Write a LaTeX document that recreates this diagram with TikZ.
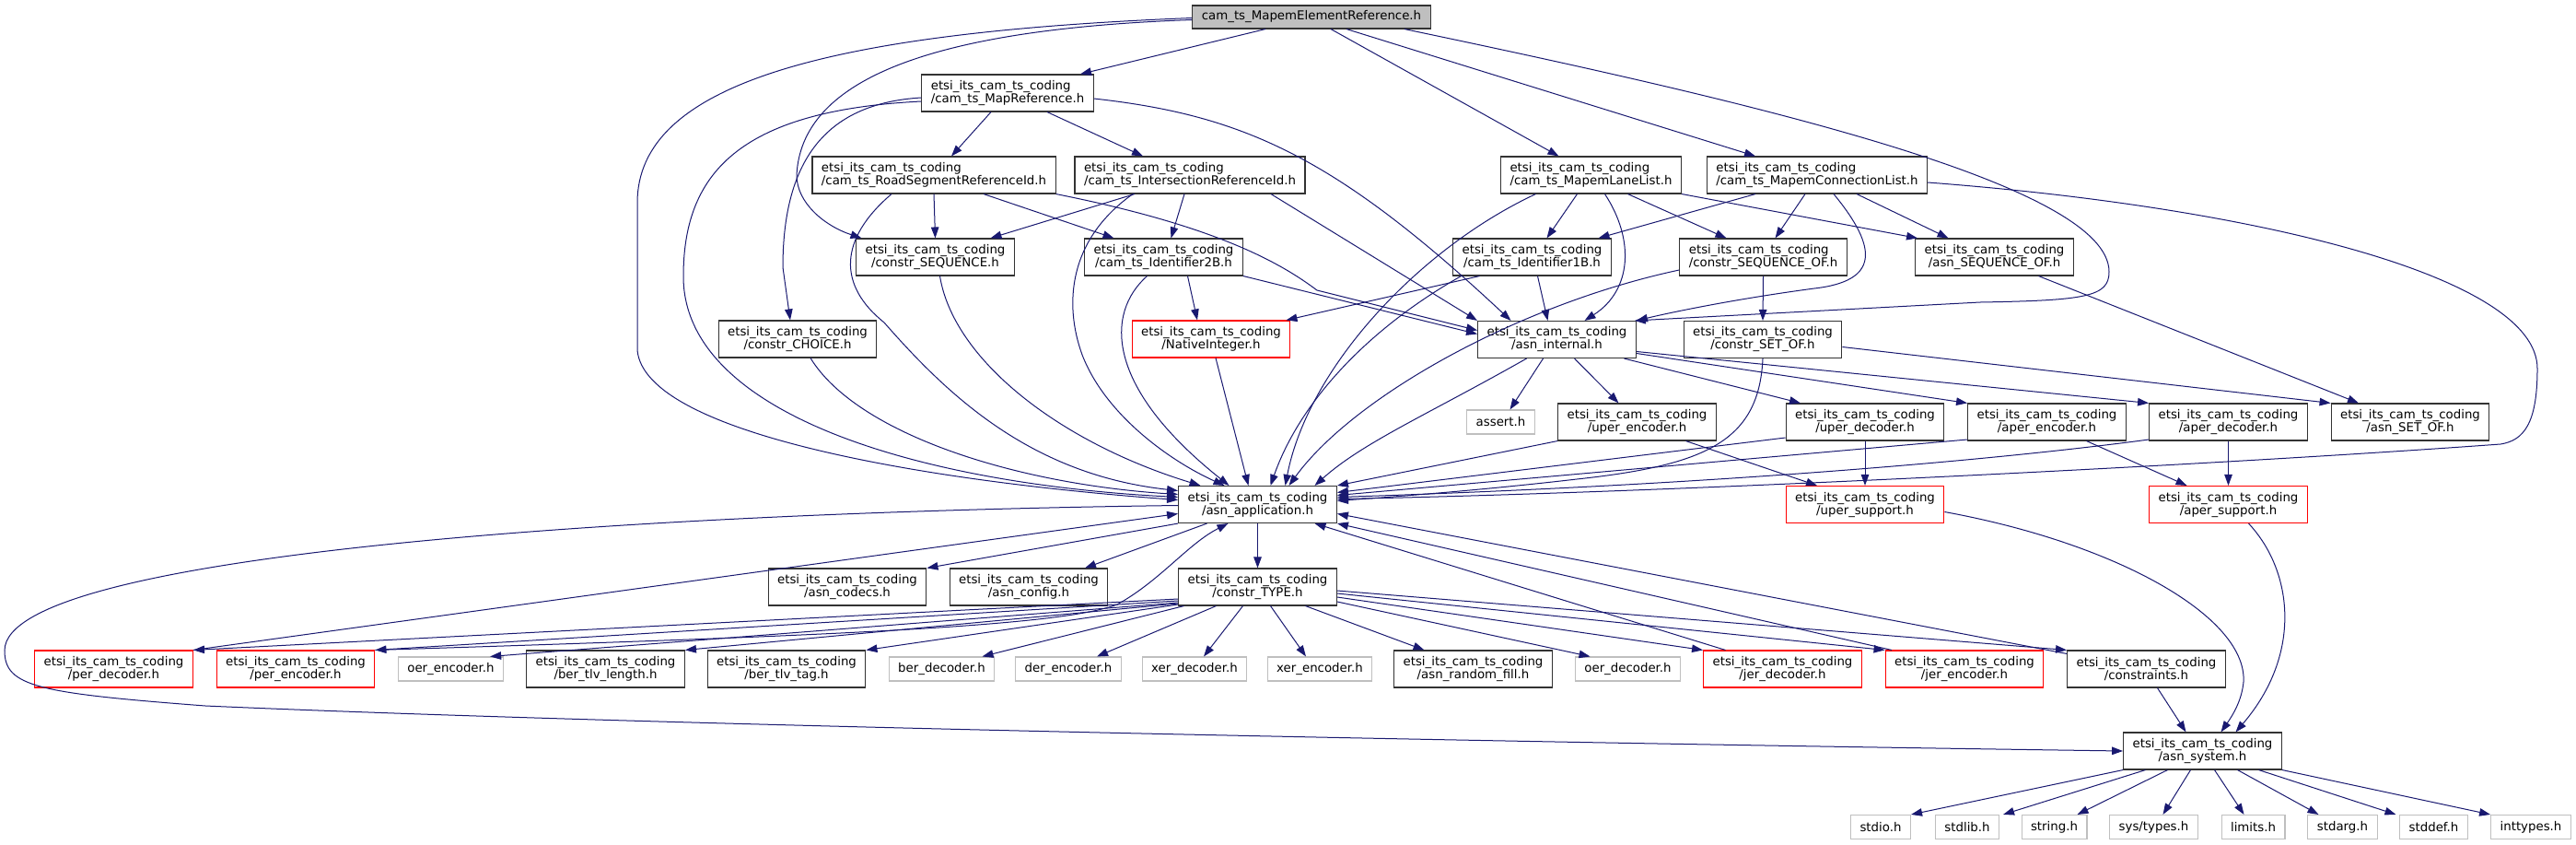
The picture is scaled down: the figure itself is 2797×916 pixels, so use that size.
\documentclass[tikz,border=0pt]{standalone}
\usepackage{fontspec}
\setmainfont{DejaVu Sans}
\usetikzlibrary{arrows.meta}
\definecolor{edgeblue}{HTML}{191970}
\definecolor{boxdark}{HTML}{333333}
\definecolor{boxlight}{HTML}{BFBFBF}
\definecolor{rootfill}{HTML}{BFBFBF}
\definecolor{boxred}{HTML}{FF0000}

\begin{document}
\begin{tikzpicture}[x=1pt,y=-1pt,
    hdr/.style={draw=boxdark, fill=white, line width=1.1pt, inner xsep=10pt, inner ysep=0pt,
      minimum height=40pt, align=center, font=\fontsize{13.33}{14}\selectfont},
    widehdr/.style={hdr, align=left},
    redhdr/.style={hdr, draw=boxred},
    syshdr/.style={hdr, draw=boxlight, minimum height=26pt},
    roothdr/.style={hdr, fill=rootfill, minimum height=25pt},
    dep/.style={draw=edgeblue, line width=1pt, -{Triangle[length=12pt,width=8.5pt]}}]
    \useasboundingbox (0,0) rectangle (2797,916);

    % the file itself
    \node[roothdr] (root) at (1424,18.5) {cam\_ts\_MapemElementReference.h};

    % cam_ts headers
    \node[widehdr] (mapref) at (1094,101) {etsi\_its\_cam\_ts\_coding\\/cam\_ts\_MapReference.h};
    \node[widehdr] (roadseg) at (1014,190) {etsi\_its\_cam\_ts\_coding\\/cam\_ts\_RoadSegmentReferenceId.h};
    \node[widehdr] (interref) at (1292,190) {etsi\_its\_cam\_ts\_coding\\/cam\_ts\_IntersectionReferenceId.h};
    \node[widehdr] (lanelist) at (1727.5,190) {etsi\_its\_cam\_ts\_coding\\/cam\_ts\_MapemLaneList.h};
    \node[widehdr] (connlist) at (1973,190) {etsi\_its\_cam\_ts\_coding\\/cam\_ts\_MapemConnectionList.h};
    \node[hdr] (constrseq) at (1015.5,279) {etsi\_its\_cam\_ts\_coding\\/constr\_SEQUENCE.h};
    \node[hdr] (id2b) at (1263.5,279) {etsi\_its\_cam\_ts\_coding\\/cam\_ts\_Identifier2B.h};
    \node[hdr] (id1b) at (1663.5,279) {etsi\_its\_cam\_ts\_coding\\/cam\_ts\_Identifier1B.h};
    \node[widehdr] (seqof) at (1914.5,279) {etsi\_its\_cam\_ts\_coding\\/constr\_SEQUENCE\_OF.h};
    \node[hdr] (asnseqof) at (2165.5,279) {etsi\_its\_cam\_ts\_coding\\/asn\_SEQUENCE\_OF.h};
    \node[hdr] (choice) at (866,368) {etsi\_its\_cam\_ts\_coding\\/constr\_CHOICE.h};
    \node[redhdr] (nativeint) at (1315,368) {etsi\_its\_cam\_ts\_coding\\/NativeInteger.h};
    \node[hdr] (internal) at (1690.5,368.5) {etsi\_its\_cam\_ts\_coding\\/asn\_internal.h};
    \node[hdr] (setof) at (1914,368.5) {etsi\_its\_cam\_ts\_coding\\/constr\_SET\_OF.h};

    % encoders and decoders
    \node[syshdr] (assert) at (1629.5,458) {assert.h};
    \node[hdr] (uperenc) at (1777.5,458) {etsi\_its\_cam\_ts\_coding\\/uper\_encoder.h};
    \node[hdr] (uperdec) at (2025,458) {etsi\_its\_cam\_ts\_coding\\/uper\_decoder.h};
    \node[hdr] (aperenc) at (2222.5,458) {etsi\_its\_cam\_ts\_coding\\/aper\_encoder.h};
    \node[hdr] (aperdec) at (2419.5,458) {etsi\_its\_cam\_ts\_coding\\/aper\_decoder.h};
    \node[hdr] (asnsetof) at (2617,458) {etsi\_its\_cam\_ts\_coding\\/asn\_SET\_OF.h};
    \node[hdr] (application) at (1365.5,547.5) {etsi\_its\_cam\_ts\_coding\\/asn\_application.h};
    \node[redhdr] (upersup) at (2025,547.5) {etsi\_its\_cam\_ts\_coding\\/uper\_support.h};
    \node[redhdr] (apersup) at (2419.5,547.5) {etsi\_its\_cam\_ts\_coding\\/aper\_support.h};
    \node[hdr] (codecs) at (920,637) {etsi\_its\_cam\_ts\_coding\\/asn\_codecs.h};
    \node[hdr] (config) at (1117,637) {etsi\_its\_cam\_ts\_coding\\/asn\_config.h};
    \node[hdr] (constrtype) at (1365.5,637) {etsi\_its\_cam\_ts\_coding\\/constr\_TYPE.h};

    % row under constr_TYPE.h
    \node[redhdr] (perdec) at (123.5,726) {etsi\_its\_cam\_ts\_coding\\/per\_decoder.h};
    \node[redhdr] (perenc) at (321,726) {etsi\_its\_cam\_ts\_coding\\/per\_encoder.h};
    \node[syshdr] (oerenc) at (489.5,726) {oer\_encoder.h};
    \node[hdr] (bertlvlen) at (657.5,726) {etsi\_its\_cam\_ts\_coding\\/ber\_tlv\_length.h};
    \node[hdr] (bertlvtag) at (854,726) {etsi\_its\_cam\_ts\_coding\\/ber\_tlv\_tag.h};
    \node[syshdr] (berdec) at (1022.5,726) {ber\_decoder.h};
    \node[syshdr] (derenc) at (1160,726) {der\_encoder.h};
    \node[syshdr] (xerdec) at (1297,726) {xer\_decoder.h};
    \node[syshdr] (xerenc) at (1433,726) {xer\_encoder.h};
    \node[hdr] (randfill) at (1599.5,726) {etsi\_its\_cam\_ts\_coding\\/asn\_random\_fill.h};
    \node[syshdr] (oerdec) at (1767.5,726) {oer\_decoder.h};
    \node[redhdr] (jerdec) at (1935.5,726) {etsi\_its\_cam\_ts\_coding\\/jer\_decoder.h};
    \node[redhdr] (jerenc) at (2133,726) {etsi\_its\_cam\_ts\_coding\\/jer\_encoder.h};
    \node[hdr] (constraints) at (2330.5,726) {etsi\_its\_cam\_ts\_coding\\/constraints.h};
    \node[hdr] (system) at (2391.5,815) {etsi\_its\_cam\_ts\_coding\\/asn\_system.h};

    % system headers
    \node[syshdr] (stdio) at (2042,897.5) {stdio.h};
    \node[syshdr] (stdlib) at (2136,897.5) {stdlib.h};
    \node[syshdr] (string) at (2230.5,897.5) {string.h};
    \node[syshdr] (systypes) at (2338.5,897.5) {sys/types.h};
    \node[syshdr] (limits) at (2446.5,897.5) {limits.h};
    \node[syshdr] (stdarg) at (2543.5,897.5) {stdarg.h};
    \node[syshdr] (stddef) at (2642.5,897.5) {stddef.h};
    \node[syshdr] (inttypes) at (2748,897.5) {inttypes.h};

    % from the file itself
    \draw[dep] ([yshift=-1]root.west) .. controls (900,35) and (692,90) .. (692,220) -- (692,380)
      .. controls (700,470) and (1000,522) .. ([yshift=5]application.west);
    \draw[dep] ([xshift=-50]root.south) -- ([xshift=79]mapref.north);
    \draw[dep] ([yshift=-3]root.west) .. controls (1000,32) and (870,90) .. (865,190)
      .. controls (865,220) and (895,245) .. ([xshift=-80]constrseq.north);
    \draw[dep] ([xshift=21]root.south) -- ([xshift=-35]lanelist.north);
    \draw[dep] ([xshift=38]root.south) -- ([xshift=-67]connlist.north);
    \draw[dep] ([xshift=101]root.south) .. controls (1900,110) and (2290,200) .. (2290,295)
      .. controls (2290,322) and (2265,326) .. (2150,328) -- ([xshift=-2]internal.north east);

    % cam_ts_MapReference.h
    \draw[dep] ([xshift=-18]mapref.south) -- ([xshift=19]roadseg.north);
    \draw[dep] ([xshift=43]mapref.south) -- ([xshift=-51]interref.north);
    \draw[dep] ([yshift=-5]mapref.west) .. controls (900,112) and (850,170) .. (850,290) -- ([xshift=-8]choice.north);
    \draw[dep] ([yshift=-9]mapref.west) .. controls (800,120) and (742,190) .. (742,300)
      .. controls (742,450) and (1000,525) .. ([yshift=8]application.west);
    \draw[dep] ([yshift=-6]mapref.east) .. controls (1350,125) and (1450,170) .. ([xshift=-50]internal.north);

    % cam_ts_RoadSegmentReferenceId.h
    \draw[dep] (roadseg.south) -- (constrseq.north);
    \draw[dep] ([xshift=54]roadseg.south) -- ([xshift=-54]id2b.north);
    \draw[dep] ([xshift=-46]roadseg.south) .. controls (910,260) and (910,310) .. (960,350)
      .. controls (1030,430) and (1120,515) .. ([yshift=15]application.west);
    \draw[dep] (roadseg.south east) .. controls (1320,245) and (1390,285) .. (1430,315) -- ([yshift=10]internal.west);

    % cam_ts_IntersectionReferenceId.h
    \draw[dep] ([xshift=-60]interref.south) -- ([xshift=60]constrseq.north);
    \draw[dep] ([xshift=-6]interref.south) -- ([xshift=8]id2b.north);
    \draw[dep] ([xshift=-62]interref.south) .. controls (1160,260) and (1155,330) .. (1175,385)
      .. controls (1200,450) and (1270,500) .. ([xshift=-36]application.north);
    \draw[dep] ([xshift=88]interref.south) -- (internal.north west);

    % identifiers
    \draw[dep] ([xshift=26]id2b.south) -- ([xshift=-15]nativeint.north);
    \draw[dep] ([xshift=-18]id2b.south) .. controls (1200,340) and (1200,420) .. ([xshift=-31]application.north);
    \draw[dep] (id2b.south east) -- ([yshift=6]internal.west);
    \draw[dep] ([xshift=-57]id1b.south) -- ([xshift=-5]nativeint.north east);
    \draw[dep] ([xshift=-77]id1b.south) .. controls (1480,360) and (1410,440) .. ([xshift=14]application.north);
    \draw[dep] ([xshift=6]id1b.south) -- ([xshift=-10]internal.north);

    % cam_ts_MapemLaneList.h
    \draw[dep] ([xshift=-15]lanelist.south) -- ([xshift=16]id1b.north);
    \draw[dep] ([xshift=-60]lanelist.south) .. controls (1540,270) and (1420,400) .. ([xshift=30]application.north);
    \draw[dep] ([xshift=15]lanelist.south) .. controls (1775,260) and (1772,315) .. ([xshift=30]internal.north);
    \draw[dep] ([xshift=40]lanelist.south) -- ([xshift=-40]seqof.north);
    \draw[dep] (lanelist.south east) -- ([xshift=3]asnseqof.north west);

    % cam_ts_MapemConnectionList.h
    \draw[dep] ([xshift=-67]connlist.south) -- ([xshift=72]id1b.north);
    \draw[dep] ([xshift=-13]connlist.south) -- ([xshift=13]seqof.north);
    \draw[dep] ([xshift=18]connlist.south) .. controls (2040,270) and (2040,305) .. (1970,313)
      .. controls (1880,325) and (1810,340) .. (internal.north east);
    \draw[dep] ([xshift=43]connlist.south) -- ([xshift=-50]asnseqof.north);
    \draw[dep] ([yshift=-8]connlist.east) .. controls (2450,225) and (2755,300) .. (2755,400)
      .. controls (2755,460) and (2740,478) .. (2715,482)
      .. controls (2400,505) and (1800,535) .. ([yshift=6]application.east);

    % constr_* headers
    \draw[dep] ([xshift=5]constrseq.south) .. controls (1035,390) and (1150,480) .. ([xshift=-62]application.north);
    \draw[dep] ([xshift=14]choice.south) .. controls (930,470) and (1100,525) .. ([yshift=11]application.west);
    \draw[dep] ([xshift=5]nativeint.south) -- ([xshift=-10]application.north);
    \draw[dep] (seqof.south) -- (setof.north);
    \draw[dep] ([yshift=-14]seqof.west) .. controls (1650,330) and (1470,430) .. ([xshift=34]application.north);
    \draw[dep] ([yshift=-8]setof.east) -- (asnsetof.north west);
    \draw[dep] (setof.south) .. controls (1910,480) and (1850,505) .. (1712,520)
      .. controls (1600,533) and (1500,540) .. ([yshift=4]application.east);
    \draw[dep] ([xshift=48]asnseqof.south) -- ([xshift=-56]asnsetof.north);

    % asn_internal.h
    \draw[dep] ([xshift=-33]internal.south) .. controls (1550,450) and (1480,480) .. ([xshift=62]application.north);
    \draw[dep] ([xshift=-15]internal.south) -- ([xshift=10]assert.north);
    \draw[dep] ([xshift=19]internal.south) -- ([xshift=-20]uperenc.north);
    \draw[dep] ([xshift=73]internal.south) -- ([xshift=-70]uperdec.north);
    \draw[dep] ([yshift=-15]internal.east) -- (aperenc.north west);
    \draw[dep] ([yshift=-13]internal.east) -- (aperdec.north west);

    % per encoders/decoders
    \draw[dep] (uperenc.south west) -- (application.north east);
    \draw[dep] ([xshift=53]uperenc.south) -- ([xshift=-52]upersup.north);
    \draw[dep] ([yshift=-17]uperdec.west) -- ([yshift=13]application.east);
    \draw[dep] (uperdec.south) -- (upersup.north);
    \draw[dep] ([yshift=-19]aperenc.west) -- ([yshift=10]application.east);
    \draw[dep] ([xshift=43]aperenc.south) -- ([xshift=-45]apersup.north);
    \draw[dep] ([yshift=-19]aperdec.west) .. controls (2200,495) and (1900,525) .. ([yshift=8]application.east);
    \draw[dep] (aperdec.south) -- (apersup.north);
    \draw[dep] ([yshift=-8]upersup.east) .. controls (2300,590) and (2440,670) .. (2436,740)
      .. controls (2434,760) and (2425,775) .. ([xshift=20]system.north);
    \draw[dep] ([xshift=22]apersup.south) .. controls (2490,620) and (2500,710) .. ([xshift=36]system.north);

    % asn_application.h
    \draw[dep] ([yshift=-1]application.west) .. controls (700,556) and (5,600) .. (5,706)
      .. controls (5,745) and (40,752) .. (223,766) .. controls (700,787) and (1600,805) .. (system.west);
    \draw[dep] (application.south west) -- (codecs.north east);
    \draw[dep] ([xshift=-55]application.south) -- ([xshift=61]config.north);
    \draw[dep] (application.south) -- (constrtype.north);

    % constr_TYPE.h
    \draw[dep] ([yshift=-13]constrtype.west) -- (perdec.north east);
    \draw[dep] ([yshift=-15]constrtype.west) -- (perenc.north east);
    \draw[dep] ([yshift=-17]constrtype.west) -- ([xshift=-15]oerenc.north east);
    \draw[dep] ([yshift=-18]constrtype.west) -- (bertlvlen.north east);
    \draw[dep] ([yshift=-19]constrtype.west) -- (bertlvtag.north east);
    \draw[dep] ([xshift=-80]constrtype.south) -- ([xshift=44]berdec.north);
    \draw[dep] ([xshift=-45]constrtype.south) -- ([xshift=31]derenc.north);
    \draw[dep] ([xshift=-16]constrtype.south) -- ([xshift=10]xerdec.north);
    \draw[dep] ([xshift=14]constrtype.south) -- ([xshift=-15]xerenc.north);
    \draw[dep] ([xshift=52]constrtype.south) -- ([xshift=-53]randfill.north);
    \draw[dep] ([yshift=-16]constrtype.east) -- ([xshift=-41]oerdec.north);
    \draw[dep] ([yshift=-11]constrtype.east) -- (jerdec.north west);
    \draw[dep] ([yshift=-7]constrtype.east) -- (jerenc.north west);
    \draw[dep] ([yshift=-4]constrtype.east) -- (constraints.north west);

    % back up to asn_application.h
    \draw[dep] (perdec.north east) -- ([yshift=-10]application.west);
    \draw[dep] (perenc.north east) .. controls (900,690) and (1150,680) .. (1213,656)
      .. controls (1260,630) and (1290,590) .. ([xshift=-32]application.south);
    \draw[dep] ([xshift=-62]jerdec.north) -- ([xshift=62]application.south);
    \draw[dep] ([xshift=-79]jerenc.north) -- (application.south east);
    \draw[dep] ([yshift=-4]constraints.north west) -- ([yshift=-10]application.east);
    \draw[dep] ([xshift=12]constraints.south) -- ([xshift=-18]system.north);

    % asn_system.h
    \draw[dep] (system.south west) -- (stdio.north east);
    \draw[dep] ([xshift=-62]system.south) -- ([xshift=39]stdlib.north);
    \draw[dep] ([xshift=-38]system.south) -- ([xshift=25]string.north);
    \draw[dep] ([xshift=-13]system.south) -- ([xshift=10]systypes.north);
    \draw[dep] ([xshift=13]system.south) -- ([xshift=-10]limits.north);
    \draw[dep] ([xshift=38]system.south) -- ([xshift=-26]stdarg.north);
    \draw[dep] ([xshift=61]system.south) -- ([xshift=-41]stddef.north);
    \draw[dep] (system.south east) -- (inttypes.north west);
\end{tikzpicture}
\end{document}
